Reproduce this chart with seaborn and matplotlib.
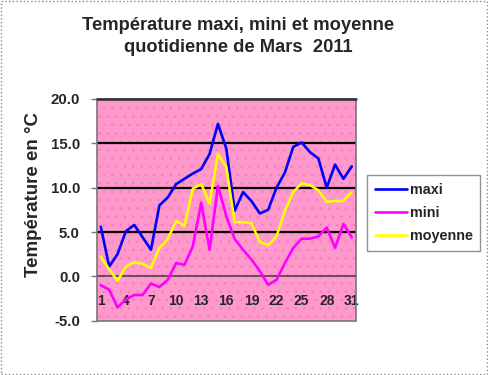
import numpy as np
import pandas as pd
import matplotlib
matplotlib.use('Agg')
import matplotlib.pyplot as plt
from matplotlib.patches import Rectangle
import seaborn as sns

#%%
days = list(range(1, 32))
maxi = [5.6, 1.1, 2.5, 5.1, 5.8, 4.4, 3.0, 8.0, 8.9, 10.4,
        11.0, 11.6, 12.1, 13.8, 17.2, 14.4, 7.4, 9.5, 8.5, 7.1,
        7.5, 10.0, 11.7, 14.6, 15.1, 14.0, 13.3, 10.0, 12.6, 11.0, 12.4]
mini = [-1.0, -1.5, -3.5, -2.6, -2.1, -2.1, -0.8, -1.2, -0.4, 1.5,
        1.3, 3.4, 8.3, 3.0, 10.2, 6.8, 4.2, 3.0, 1.9, 0.6,
        -0.95, -0.4, 1.5, 3.2, 4.25, 4.25, 4.5, 5.5, 3.2, 5.9, 4.4]
moyenne = [2.2, 0.8, -0.5, 1.1, 1.6, 1.4, 0.95, 3.2, 4.2, 6.25,
           5.7, 9.9, 10.4, 8.2, 13.8, 12.3, 6.1, 6.1, 6.0, 3.9,
           3.5, 4.5, 7.4, 9.5, 10.5, 10.3, 9.7, 8.4, 8.5, 8.5, 9.5]
series_names = ['maxi', 'mini', 'moyenne']
colors = ['#0000FF', '#FF00FF', '#FFFF00']
y_ticks = [-5, 0, 5, 10, 15, 20]
x_labels = [1, 4, 7, 10, 13, 16, 19, 22, 25, 28, 31]

df = pd.DataFrame({'jour': days, 'maxi': maxi, 'mini': mini, 'moyenne': moyenne})
long_df = df.melt(id_vars='jour', var_name='serie', value_name='temp')

#%%
sns.set_style('white')
plt.rcParams['font.family'] = ['Liberation Sans', 'DejaVu Sans']
plt.rcParams['font.weight'] = 'bold'
plt.rcParams['hatch.linewidth'] = 0.5

fig = plt.figure(figsize=(4.88, 3.75), dpi=100)
ax = fig.add_axes([0.198, 0.1448, 0.5315, 0.5912])
ax.set_facecolor('#FF99CC')

# dotted pattern of the plot area
ax.add_patch(Rectangle((0, 0), 1, 1, transform=ax.transAxes, fill=False,
                       edgecolor='#F27DC0', linewidth=0, hatch='..', zorder=0))

for y in [5, 10, 15, 20]:
    ax.axhline(y, color='black', lw=1.6, zorder=1)

sns.lineplot(data=long_df, x='jour', y='temp', hue='serie', hue_order=series_names,
             palette=colors, linewidth=1.9, ax=ax, zorder=3)

ax.set_xlim(0.5, 31.5)
ax.set_ylim(-5, 20)
ax.set_yticks(y_ticks)
ax.set_yticklabels([f'{v:.1f}' for v in y_ticks], fontsize=10.8, fontweight='bold')
ax.set_xticks(x_labels)
ax.set_xticklabels([str(v) for v in x_labels], fontsize=10.8, fontweight='bold')
ax.set_xticks(np.arange(1.5, 31.5, 1), minor=True)
ax.tick_params(axis='x', which='major', length=0, pad=12.5)
ax.tick_params(axis='x', which='minor', length=4, width=1, color='#555555', direction='out')
ax.tick_params(axis='y', which='major', length=4, width=1, color='#777777', left=True, pad=8)

ax.spines['bottom'].set_position(('data', 0))
ax.spines['bottom'].set_color('#444444')
ax.spines['bottom'].set_linewidth(1.2)
for s in ['top', 'right', 'left']:
    ax.spines[s].set_visible(False)
ax.add_patch(Rectangle((0, 0), 1, 1, transform=ax.transAxes, fill=False,
                       edgecolor='#777777', linewidth=1.2, zorder=4, clip_on=False))
ax.axhline(20, color='#333333', lw=1.8, zorder=5, clip_on=False)

ax.set_xlabel('')
ax.set_ylabel('Température en °C', fontsize=13.5, fontweight='bold')
ax.yaxis.set_label_coords(-0.21, 0.57)

leg = ax.legend(loc='upper left', bbox_to_anchor=(1.042, 0.655), borderaxespad=0,
                frameon=True, fancybox=False, handlelength=2.2, handletextpad=0.2,
                labelspacing=0.6, borderpad=0.55, prop={'size': 10.4, 'weight': 'bold'})
leg.get_frame().set_edgecolor('#777777')
leg.get_frame().set_linewidth(1.0)
for line in leg.get_lines():
    line.set_linewidth(1.9)

fig.text(0.488, 0.933, 'Température maxi, mini et moyenne', ha='center', va='center',
         fontsize=13.2, fontweight='bold')
fig.text(0.488, 0.872, 'quotidienne de Mars  2011', ha='center', va='center',
         fontsize=13.2, fontweight='bold')

fig.patches.append(Rectangle((0.002, 0.003), 0.995, 0.994, transform=fig.transFigure,
                             fill=False, edgecolor='#888888', linestyle=':', linewidth=1))

fig.savefig('out.png', dpi=100)
